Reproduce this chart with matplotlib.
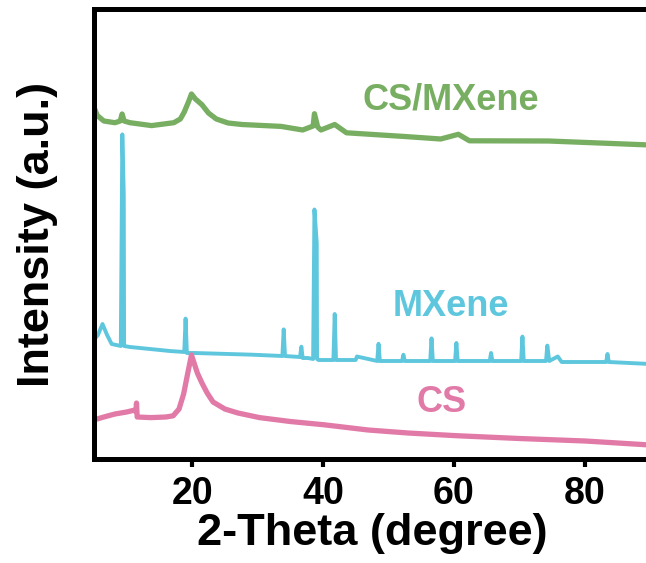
import matplotlib
matplotlib.use("Agg")
import matplotlib.pyplot as plt

plt.rcParams['font.family'] = ['Liberation Sans', 'DejaVu Sans']
plt.rcParams['font.weight'] = 'bold'

# ---- data (arbitrary intensity units) ----
cs_x = [4.95, 6.5, 8.2, 10.0, 11.0, 11.4, 11.5, 11.6, 13.7, 16.0, 17.1, 18.0, 18.7,
        19.4, 19.9, 20.3, 20.8, 21.5, 22.3, 23.2, 25.0, 27.0, 30.3, 35.0, 40.2,
        46.9, 53.0, 60.4, 70.0, 80.1, 90.0]
cs_y = [39, 42, 45, 47, 48.6, 48, 56, 42, 41.4, 42, 43.2, 50, 65,
        88, 104, 96, 86, 76, 66, 57, 50, 46, 41.4, 37.5, 34.2,
        29, 26, 23.3, 20.5, 18, 14]

mx_x = [4.95, 5.6, 6.3, 7.0, 7.7, 9.1, 9.33, 9.55, 9.6, 10.5, 16.6, 18.8, 19.0, 19.2, 20.4,
        29.2, 33.8, 34.0, 34.2, 35.3, 36.5, 36.7, 36.9, 37.7, 38.5, 38.7, 39.05, 39.1,
        39.3, 40.6, 41.6, 41.8, 42.0, 42.5, 45.0, 45.2, 48.3, 48.5, 48.7, 52.1, 52.3,
        52.5, 56.4, 56.6, 56.8, 60.2, 60.4, 60.6, 65.5, 65.7, 65.9, 70.3, 70.5, 70.7,
        74.1, 74.3, 74.6, 75.9, 76.5, 83.3, 83.5, 83.7, 90.0]
mx_y = [118.8, 124, 135, 124, 115, 113, 324.6, 265, 113, 112, 108, 107, 140.4, 106, 106,
        104.3, 103, 129.6, 103, 102.5, 102, 112.3, 101, 101, 100, 249.5, 216, 100,
        99, 99, 99, 145, 99, 99, 99, 102.5, 98, 115.2, 98, 98, 104.3,
        98, 98, 120.6, 98, 98, 116, 98, 98, 106, 98, 98, 122.4, 98,
        98, 113.4, 98, 102.5, 97, 97, 105, 97, 95]

mix_x = [4.95, 5.5, 6.5, 8.2, 9.0, 9.3, 9.6, 10.5, 13.8, 17.2, 18.2, 18.8, 19.5, 19.9,
         20.5, 21.5, 22.5, 23.7, 25.5, 27.6, 33.6, 36.9, 38.5, 38.7, 38.9, 39.2, 39.7,
         41.8, 43.6, 52.5, 58.0, 60.7, 62.4, 74.5, 90.0]
mix_y = [352.5, 343.5, 338, 336.3, 338, 345, 338, 336.3, 333.4, 336.3, 340, 347, 358, 365,
         360, 354.3, 346, 340, 336, 334.5, 332.6, 329, 333, 345.3, 340, 332, 329,
         334.5, 326.2, 322.5, 320, 324.7, 318.2, 318, 314]

labels = ["CS/MXene", "MXene", "CS"]
xticks = [20, 40, 60, 80]

c_green = "#78AE62"
c_cyan = "#5EC7DD"
c_pink = "#E27AA8"

fig = plt.figure(figsize=(6.46, 5.63), dpi=100)
ax = fig.add_axes([94/646, 104/563, 556/646, 450/563])

ax.plot(mix_x, mix_y, color=c_green, lw=3.8, solid_joinstyle='round')
ax.plot(mx_x, mx_y, color=c_cyan, lw=2.8, solid_joinstyle='round')
ax.plot(cs_x, cs_y, color=c_pink, lw=3.8, solid_joinstyle='round')

ax.text(59.5, 349, labels[0], color=c_green, fontsize=26, fontweight='bold',
        ha='center', va='baseline')
ax.text(59.5, 143, labels[1], color=c_cyan, fontsize=26, fontweight='bold',
        ha='center', va='baseline')
ax.text(58.1, 47, labels[2], color=c_pink, fontsize=26, fontweight='bold',
        ha='center', va='baseline')

ax.set_xlim(5, 90)
ax.set_ylim(0, 450)
ax.set_xticks(xticks)
ax.set_xticklabels([str(t) for t in xticks])
ax.set_yticks([])
ax.tick_params(axis='x', direction='out', length=6, width=3, pad=6,
               labelsize=27)
for lab in ax.get_xticklabels():
    lab.set_fontweight('bold')
for side in ['left', 'bottom', 'top']:
    ax.spines[side].set_linewidth(3.6)
ax.spines['right'].set_visible(False)

ax.set_xlabel("2-Theta (degree)", fontsize=32.5, fontweight='bold', labelpad=1)
ax.set_ylabel("Intensity (a.u.)", fontsize=32.5, fontweight='bold', labelpad=26)

fig.savefig("out.png", dpi=100)
